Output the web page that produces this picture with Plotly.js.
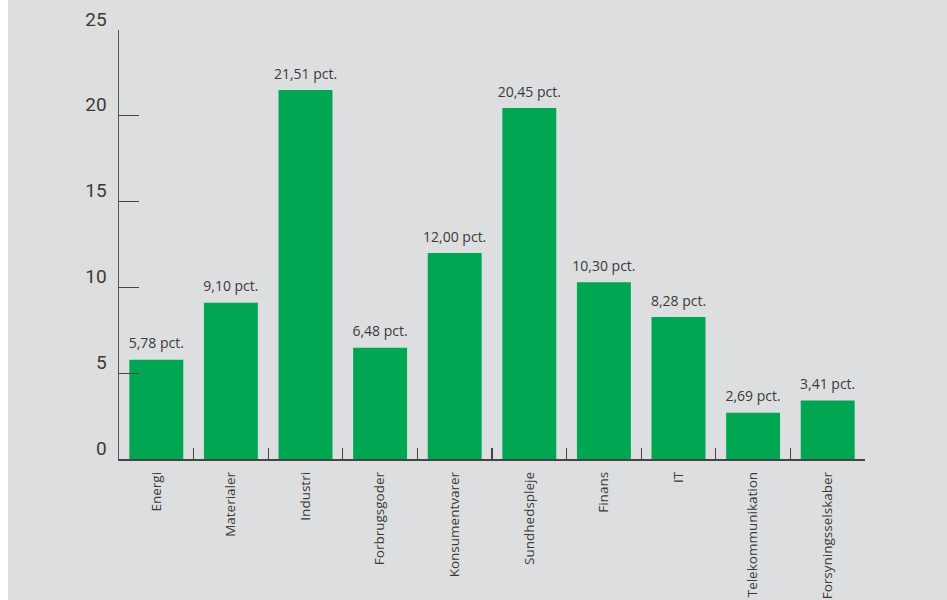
<!DOCTYPE html>
<html>
<head>
<meta charset="utf-8">
<script src="https://cdn.plot.ly/plotly-3.0.1.min.js"></script>
<style>
html,body{margin:0;padding:0;background:#ffffff;}
#chart{position:absolute;left:8px;top:0;width:939px;height:600px;}
</style>
</head>
<body>
<div id="chart"></div>
<script>
const categories = ["Energi","Materialer","Industri","Forbrugsgoder","Konsumentvarer","Sundhedspleje","Finans","IT","Telekommunikation","Forsyningsselskaber"];
const values = [5.78, 9.10, 21.51, 6.48, 12.00, 20.45, 10.30, 8.28, 2.69, 3.41];
const valueLabels = ["5,78 pct.","9,10 pct.","21,51 pct.","6,48 pct.","12,00 pct.","20,45 pct.","10,30 pct.","8,28 pct.","2,69 pct.","3,41 pct."];
const yTicks = [0,5,10,15,20,25];
const boundaryTicks = [0.5,1.5,2.5,3.5,4.5,5.5,6.5,7.5,8.5];

const FONT = "Roboto, 'DejaVu Sans', sans-serif";
const FONT2 = "'Open Sans', Roboto, sans-serif";
const TXT = "#3a3a3a";

const bars = {
  type: "bar",
  x: categories,
  y: values,
  marker: {color: "#00a651", line: {width: 0}},
  hoverinfo: "x+y"
};
const labels = {
  type: "scatter",
  mode: "markers+text",
  x: categories,
  y: values,
  text: valueLabels,
  textposition: "top center",
  cliponaxis: false,
  textfont: {family: FONT2, size: 14, color: TXT},
  marker: {size: 11, color: "rgba(0,0,0,0)"},
  hoverinfo: "skip"
};
const tickTrace = {
  type: "scatter", mode: "markers",
  x: [], y: [], xaxis: "x2", yaxis: "y",
  showlegend: false, hoverinfo: "skip"
};

const layout = {
  width: 939, height: 600,
  paper_bgcolor: "#dddee0",
  plot_bgcolor: "#dddee0",
  showlegend: false,
  margin: {l: 111, r: 82, t: 30, b: 141, pad: 0},
  bargap: 0.277,
  font: {family: FONT, color: TXT},
  xaxis: {
    type: "category",
    range: [-0.5, 9.5],
    showline: true, linecolor: "#444", linewidth: 1.5,
    ticks: "", showgrid: false, zeroline: false,
    tickangle: -90,
    tickfont: {family: FONT2, size: 13.5, color: TXT},
    ticklabelstandoff: 6
  },
  xaxis2: {
    overlaying: "x", anchor: "y", side: "bottom",
    range: [-0.5, 9.5],
    tickvals: boundaryTicks,
    ticks: "inside", ticklen: 11, tickwidth: 1.3, tickcolor: "#444",
    showticklabels: false, showgrid: false, zeroline: false, showline: false
  },
  yaxis: {
    range: [0, 25],
    tickvals: yTicks,
    ticks: "inside", ticklen: 20, tickwidth: 1.3, tickcolor: "#444",
    showline: true, linecolor: "#555", linewidth: 1.5,
    showgrid: false, zeroline: false,
    tickfont: {family: FONT, size: 19, color: TXT},
    ticklabelshift: -11,
    ticklabelstandoff: 7
  }
};

Plotly.newPlot("chart", [bars, labels, tickTrace], layout, {displayModeBar: false, staticPlot: true});
</script>
</body>
</html>
